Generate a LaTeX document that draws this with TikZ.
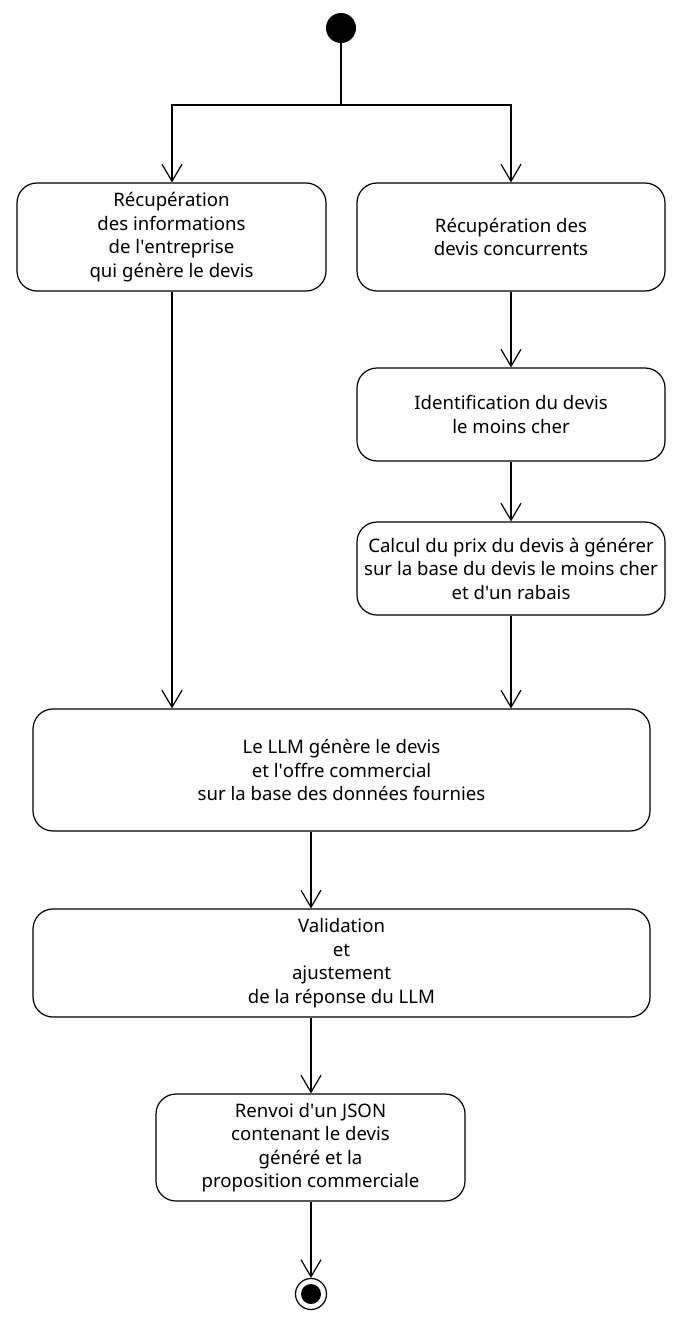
\documentclass[tikz,border=0pt]{standalone}
\usepackage{fontspec}
\setmainfont{Noto Sans}
\usetikzlibrary{arrows.meta}
\begin{document}
\begin{tikzpicture}[x=1pt,y=-1pt,
  act/.style={draw, line width=1.2pt, rounded corners=20pt, inner sep=0pt, align=center,
    font=\fontsize{18.6}{23.5}\selectfont},
  flow/.style={draw, line width=1.2pt, -{Straight Barb[length=17pt,width=20pt,line width=1.2pt]}},
  link/.style={draw, line width=1.2pt}]
\useasboundingbox (0,0) rectangle (677,1329);
\node[fill=black, circle, minimum size=30pt, inner sep=0pt] (start) at (341,28) {};
\node[act, minimum width=309pt, minimum height=108pt] (a) at (171.5,237) {Récupération\\des informations\\de l\textquotesingle entreprise\\qui génère le devis};
\node[act, minimum width=308pt, minimum height=108pt] (b) at (511,237) {Récupération des\\devis concurrents};
\node[act, minimum width=308pt, minimum height=93pt] (c) at (511,414.5) {Identification du devis\\le moins cher};
\node[act, minimum width=308pt, minimum height=93pt] (d) at (511,568.5) {Calcul du prix du devis à générer\\sur la base du devis le moins cher\\et d\textquotesingle un rabais};
\node[act, minimum width=617pt, minimum height=122pt] (e) at (341.5,770) {Le LLM génère le devis\\et l\textquotesingle offre commercial\\sur la base des données fournies};
\node[act, minimum width=617pt, minimum height=108pt] (f) at (341.5,963) {Validation\\et\\ajustement\\de la réponse du LLM};
\node[act, minimum width=309pt, minimum height=107pt] (g) at (310.5,1147.5) {Renvoi d\textquotesingle un JSON\\contenant le devis\\généré et la\\proposition commerciale};
\node[draw, circle, line width=1.2pt, minimum size=31pt, inner sep=0pt] (end) at (311,1294) {};
\node[fill=black, circle, minimum size=20pt, inner sep=0pt] at (end.center) {};
\coordinate (fork) at (341,105);
\draw[link] (start) -- (fork);
\draw[flow] (fork) -| (a.north -| 172,0);
\draw[flow] (fork) -| (b.north);
\draw[flow] (b) -- (c);
\draw[flow] (c) -- (d);
\draw[flow] (a.south -| 172,0) -- (e.north -| 172,0);
\draw[flow] (d.south) -- (e.north -| d.south);
\draw[flow] (e.south -| 311,0) -- (f.north -| 311,0);
\draw[flow] (f.south -| 311,0) -- (g.north -| 311,0);
\draw[flow] (g.south -| 311,0) -- (end);
\end{tikzpicture}
\end{document}
